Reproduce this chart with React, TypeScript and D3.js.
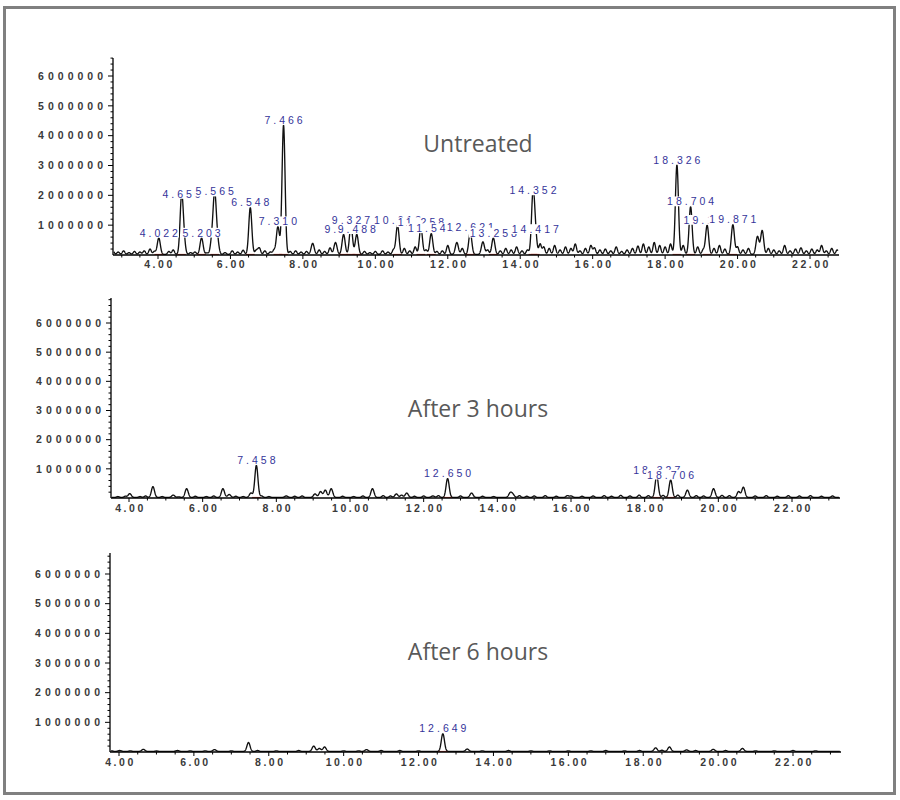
import React from 'react';
import * as d3 from 'd3';

// ---------- data ----------
const xTickValues = [4, 6, 8, 10, 12, 14, 16, 18, 20, 22];
const yTickValues = [1000000, 2000000, 3000000, 4000000, 5000000, 6000000];
const panelTitles = ['Untreated', 'After 3 hours', 'After 6 hours'];

// [retention time (min), abundance, label]
const untreatedPeaks: [number, number, string][] = [
  [4.022, 550000, '4.022'], [4.65, 1850000, '4.650'], [4.71, 500000, ''],
  [5.203, 550000, '5.203'], [5.49, 500000, ''], [5.565, 1930000, '5.565'], [5.64, 450000, ''],
  [6.548, 1570000, '6.548'], [6.72, 150000, ''], [7.31, 930000, '7.310'], [7.466, 4330000, '7.466'],
  [8.27, 370000, ''], [8.9, 400000, ''], [9.124, 670000, '9.124'], [9.327, 980000, '9.327'],
  [9.488, 670000, '9.488'], [10.613, 980000, '10.613'], [11.258, 900000, '11.258'],
  [11.544, 700000, '11.544'], [12.25, 400000, ''], [12.621, 750000, '12.621'], [12.97, 420000, ''],
  [13.258, 550000, '13.258'], [14.352, 1970000, '14.352'], [14.417, 670000, '14.417'],
  [18.326, 3000000, '18.326'], [18.704, 1600000, '18.704'], [19.16, 980000, '19.160'],
  [19.871, 1000000, '19.871'], [20.55, 600000, ''], [20.68, 800000, ''],
];
// [retention time (min), abundance] small unlabelled bumps of the trace
const untreatedMinor: [number, number][] = [
  [2.75, 150000], [2.9, 80000], [3.05, 120000], [3.2, 60000], [3.35, 100000], [3.5, 80000],
  [3.62, 120000], [3.78, 180000], [3.9, 100000], [4.3, 100000], [4.42, 150000], [4.9, 60000],
  [5.02, 80000], [5.35, 50000], [5.85, 60000], [6.05, 120000], [6.2, 80000], [6.35, 140000],
  [6.8, 200000], [6.95, 120000], [7.1, 80000], [7.2, 140000], [7.65, 100000], [7.8, 120000],
  [7.95, 80000], [8.1, 100000], [8.45, 150000], [8.6, 100000], [8.75, 220000], [9.7, 100000],
  [9.85, 60000], [10.0, 100000], [10.2, 120000], [10.35, 80000], [10.5, 150000], [10.8, 200000],
  [10.95, 120000], [11.1, 250000], [11.4, 150000], [11.7, 100000], [11.85, 120000], [12.0, 300000],
  [12.4, 200000], [13.1, 150000], [13.45, 120000], [13.6, 200000], [13.75, 150000], [13.9, 250000],
  [14.05, 120000], [14.2, 150000], [14.55, 350000], [14.65, 250000], [14.8, 200000], [14.95, 300000],
  [15.1, 150000], [15.25, 250000], [15.4, 200000], [15.52, 350000], [15.65, 120000], [15.8, 200000],
  [15.95, 300000], [16.05, 220000], [16.2, 150000], [16.35, 180000], [16.5, 120000], [16.65, 250000],
  [16.8, 100000], [16.95, 150000], [17.1, 200000], [17.25, 280000], [17.4, 350000], [17.55, 250000],
  [17.7, 400000], [17.85, 300000], [18.0, 250000], [18.15, 350000], [18.5, 300000], [18.9, 250000],
  [19.05, 150000], [19.35, 200000], [19.5, 300000], [19.65, 180000], [20.0, 250000], [20.15, 150000],
  [20.3, 200000], [20.85, 200000], [21.0, 150000], [21.15, 120000], [21.3, 300000], [21.45, 120000],
  [21.6, 180000], [21.75, 220000], [21.9, 120000], [22.05, 180000], [22.2, 150000], [22.32, 300000],
  [22.45, 120000], [22.6, 200000], [22.75, 150000],
];

const after3hPeaks: [number, number, string][] = [
  [4.02, 130000, ''], [4.65, 370000, ''], [5.2, 80000, ''], [5.565, 300000, ''],
  [6.55, 300000, ''], [6.72, 100000, ''], [7.31, 150000, ''], [7.458, 1100000, '7.458'],
  [8.27, 50000, ''], [9.05, 120000, ''], [9.2, 200000, ''], [9.33, 250000, ''], [9.49, 300000, ''],
  [10.61, 300000, ''], [11.26, 120000, ''], [11.54, 150000, ''], [12.25, 50000, ''],
  [12.65, 650000, '12.650'], [13.3, 150000, ''], [14.35, 150000, ''], [14.42, 100000, ''],
  [16.0, 50000, ''], [18.327, 750000, '18.327'], [18.706, 600000, '18.706'], [19.16, 250000, ''],
  [19.87, 300000, ''], [20.55, 200000, ''], [20.68, 350000, ''],
];
const after3hMinor: [number, number][] = [
  [3.7, 30000], [3.9, 40000], [4.3, 30000], [4.45, 50000], [4.9, 30000], [5.35, 20000],
  [5.8, 40000], [6.1, 30000], [6.3, 50000], [6.9, 40000], [7.1, 30000], [7.6, 50000],
  [7.8, 30000], [8.5, 40000], [8.7, 50000], [9.8, 40000], [10.1, 30000], [10.35, 50000],
  [10.9, 60000], [11.1, 50000], [11.4, 80000], [11.75, 40000], [12.0, 50000], [12.4, 60000],
  [13.0, 50000], [13.6, 40000], [13.9, 30000], [14.6, 60000], [14.8, 40000], [15.0, 50000],
  [15.3, 60000], [15.6, 40000], [15.9, 60000], [16.3, 40000], [16.6, 50000], [16.9, 60000],
  [17.1, 40000], [17.35, 70000], [17.6, 50000], [17.85, 80000], [18.1, 60000], [18.5, 70000],
  [18.9, 80000], [19.4, 60000], [19.6, 50000], [20.1, 70000], [20.3, 60000], [21.0, 50000],
  [21.3, 60000], [21.6, 40000], [21.9, 60000], [22.2, 50000], [22.5, 60000], [22.8, 40000],
  [23.1, 50000],
];

const after6hPeaks: [number, number, string][] = [
  [4.02, 30000, ''], [4.65, 70000, ''], [5.56, 30000, ''], [6.55, 60000, ''],
  [7.458, 300000, ''], [9.2, 180000, ''], [9.35, 100000, ''], [9.49, 150000, ''],
  [10.61, 60000, ''], [12.649, 600000, '12.649'], [13.3, 80000, ''], [18.33, 120000, ''],
  [18.7, 150000, ''], [19.16, 50000, ''], [19.87, 70000, ''], [20.65, 100000, ''],
];
const after6hMinor: [number, number][] = [
  [3.8, 20000], [4.3, 20000], [5.0, 15000], [5.9, 20000], [6.3, 20000], [7.0, 20000],
  [7.7, 30000], [8.2, 20000], [8.8, 30000], [10.0, 20000], [10.4, 20000], [11.0, 30000],
  [11.5, 30000], [12.0, 20000], [13.7, 20000], [14.4, 30000], [15.0, 20000], [15.5, 20000],
  [16.0, 20000], [16.6, 20000], [17.0, 30000], [17.5, 20000], [17.9, 30000], [18.5, 40000],
  [19.4, 30000], [20.2, 30000], [21.0, 20000], [21.5, 20000], [22.0, 30000], [22.6, 20000],
];

// ---------- layout ----------
interface PanelCfg {
  title: string;
  peaks: [number, number, string][];
  minor: [number, number][];
  x4: number; x22: number; axisLeft: number; axisRight: number;
  yBase: number; y6M: number; axisTop: number; titleY: number; xLabelY: number;
}

const panels: PanelCfg[] = [
  { title: panelTitles[0], peaks: untreatedPeaks, minor: untreatedMinor,
    x4: 158, x22: 810, axisLeft: 113, axisRight: 839, yBase: 255, y6M: 76, axisTop: 58, titleY: 152, xLabelY: 268 },
  { title: panelTitles[1], peaks: after3hPeaks, minor: after3hMinor,
    x4: 129, x22: 792, axisLeft: 111, axisRight: 840, yBase: 498, y6M: 323, axisTop: 298, titleY: 417, xLabelY: 512 },
  { title: panelTitles[2], peaks: after6hPeaks, minor: after6hMinor,
    x4: 119, x22: 793, axisLeft: 110, axisRight: 841, yBase: 752, y6M: 574, axisTop: 553, titleY: 660, xLabelY: 766 },
];

const LABEL_FS = 10.5;
const LABEL_LS = 3;
const textW = (s: string, fs: number, ls: number) => {
  let w = 0;
  for (const c of s) w += c === '.' ? 2.78 : 5.56;
  return (w * fs) / 10 + ls * (s.length - 1);
};

function Panel({ cfg }: { cfg: PanelCfg }) {
  const x = d3.scaleLinear().domain([4, 22]).range([cfg.x4, cfg.x22]);
  const y = d3.scaleLinear().domain([0, 6000000]).range([cfg.yBase, cfg.y6M]);
  const t0 = x.invert(cfg.axisLeft + 1);
  const t1 = x.invert(cfg.axisRight - 1);
  const sMajor = 0.042;
  const sMinor = 0.035;
  const samples: [number, number][] = [];
  for (let t = t0; t <= t1; t += 0.005) {
    let v = 20000;
    for (const [pt, ph] of cfg.peaks) {
      const d = t - pt;
      if (Math.abs(d) < 0.3) v += ph * Math.exp(-(d * d) / (2 * sMajor * sMajor));
    }
    for (const [pt, ph] of cfg.minor) {
      const d = t - pt;
      if (Math.abs(d) < 0.3) v += ph * Math.exp(-(d * d) / (2 * sMinor * sMinor));
    }
    samples.push([t, v]);
  }
  const line = d3.line<[number, number]>().x(d => x(d[0])).y(d => y(d[1]));

  const yMax = y.invert(cfg.axisTop);
  const yMinorTicks = d3.range(200000, yMax, 200000);
  const xMinorTicks = d3.range(Math.ceil(t0 * 2) / 2, t1, 0.5);

  const labelled = cfg.peaks.filter(p => p[2] !== '').sort((a, b) => a[0] - b[0]);

  return (
    <g>
      {/* trace */}
      <path d={line(samples) || ''} fill="none" stroke="#111" strokeWidth={1.35} strokeLinejoin="round" />
      {/* integration baselines */}
      {labelled.map((p, i) => (
        <line key={'r' + i} x1={x(p[0] - 0.12)} x2={x(p[0] + 0.12)} y1={y(20000)} y2={y(20000)}
          stroke="#c0392b" strokeWidth={1} />
      ))}
      {/* y axis */}
      <line x1={cfg.axisLeft} x2={cfg.axisLeft} y1={cfg.axisTop} y2={cfg.yBase} stroke="#000" strokeWidth={1.3} />
      {yMinorTicks.map((v, i) => {
        const major = Math.abs(v % 1000000) < 1;
        return <line key={'yt' + i} x1={cfg.axisLeft - (major ? 5 : 2.5)} x2={cfg.axisLeft} y1={y(v)} y2={y(v)} stroke="#000" strokeWidth={1} />;
      })}
      {yTickValues.map((v, i) => (
        <text key={'yl' + i} x={cfg.axisLeft - 10 + 4} y={y(v)} dy="0.35em" textAnchor="end"
          fontFamily="Liberation Sans, Arial, sans-serif" fontSize={10.5} fontWeight="bold"
          letterSpacing={4} fill="#3a3a3a">{String(v)}</text>
      ))}
      {/* x axis */}
      <line x1={cfg.axisLeft} x2={cfg.axisRight} y1={cfg.yBase} y2={cfg.yBase} stroke="#000" strokeWidth={1.3} />
      {xMinorTicks.map((t, i) => {
        const major = Math.abs(t - Math.round(t)) < 1e-6 && Math.round(t) % 2 === 0;
        return <line key={'xt' + i} x1={x(t)} x2={x(t)} y1={cfg.yBase} y2={cfg.yBase + (major ? 4 : 2.5)} stroke="#000" strokeWidth={1} />;
      })}
      {xTickValues.map((t, i) => (
        <text key={'xl' + i} x={x(t) + 1.5} y={cfg.xLabelY} textAnchor="middle"
          fontFamily="Liberation Sans, Arial, sans-serif" fontSize={10.5} fontWeight="bold"
          letterSpacing={2.5} fill="#3a3a3a">{d3.format('.2f')(t)}</text>
      ))}
      {/* peak labels with white boxes */}
      {labelled.map((p, i) => {
        const cx = x(p[0]);
        const base = y(p[1]) - 2;
        const w = textW(p[2], LABEL_FS, LABEL_LS);
        return (
          <g key={'pl' + i}>
            <rect x={cx - w / 2 - 1} y={base - 8.8} width={w + 2} height={9.8} fill="#fff" />
            <text x={cx + LABEL_LS / 2} y={base} textAnchor="middle"
              fontFamily="Liberation Sans, Arial, sans-serif" fontSize={LABEL_FS}
              letterSpacing={LABEL_LS} fill="#34349a">{p[2]}</text>
          </g>
        );
      })}
      {/* title */}
      <text x={478} y={cfg.titleY} textAnchor="middle" fontFamily="Open Sans, sans-serif"
        fontSize={23} fill="#595959">{cfg.title}</text>
    </g>
  );
}

export default function App() {
  return (
    <svg width={900} height={800} style={{ position: 'absolute', left: 0, top: 0, background: '#fff' }}>
      <rect x={0} y={0} width={900} height={800} fill="#fff" />
      <rect x={4.5} y={7.5} width={890} height={786} fill="none" stroke="#808080" strokeWidth={3} />
      {panels.map((p, i) => <Panel key={i} cfg={p} />)}
    </svg>
  );
}
